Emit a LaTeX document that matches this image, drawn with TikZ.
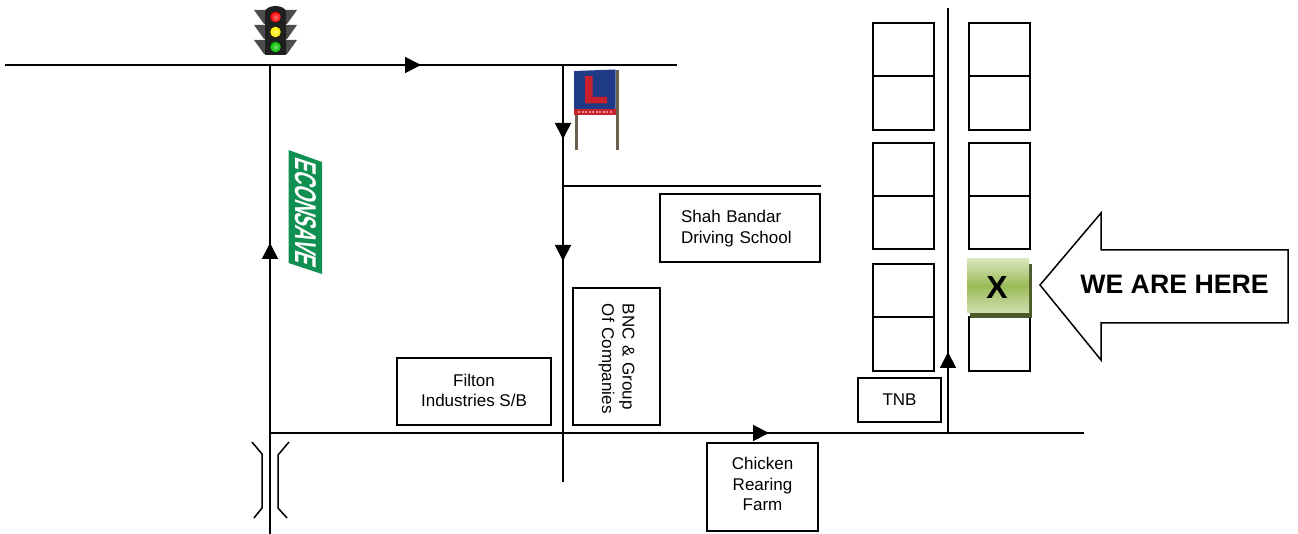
\documentclass[tikz,border=0pt]{standalone}
\usepackage{fontspec}
\setmainfont{Liberation Sans}
\usetikzlibrary{arrows.meta,calc}
\definecolor{signblue}{HTML}{1F3A86}
\definecolor{signred}{HTML}{C8202C}
\definecolor{postgrey}{HTML}{6B5F4E}
\definecolor{econgreen}{HTML}{0F9050}
\definecolor{xlight}{HTML}{D8E4BC}
\definecolor{xmid}{HTML}{9BBB59}
\definecolor{xshadow}{HTML}{4A5A28}
\tikzset{
  road/.style={draw=black,line width=1.9pt},
  dirarrow/.style={road,-{Triangle[length=16pt,width=16pt]}},
  bridgeline/.style={draw=black,line width=1.5pt},
  labelbox/.style={draw=black,line width=1.5pt,fill=white,inner sep=0pt,font=\fontsize{17}{20.5}\selectfont},
  plot/.style={draw=black,line width=1.5pt,fill=white,inner sep=0pt,minimum width=61pt},
  lamp/.style={inner color=#1!55!white,outer color=#1},
}
\begin{document}
\begin{tikzpicture}[x=1pt,y=-1pt]
\useasboundingbox (0,0) rectangle (1298,534);
% road end points
\coordinate (topW) at (5,65);
\coordinate (topE) at (677,65);
\coordinate (topA) at (421,65);
\coordinate (leftN) at (270,65);
\coordinate (leftS) at (270,534);
\coordinate (leftA) at (270,243);
\coordinate (midN) at (563,65);
\coordinate (midS) at (563,482);
\coordinate (midA) at (563,139);
\coordinate (midB) at (563,261);
\coordinate (branchW) at (563,186);
\coordinate (branchE) at (821,186);
\coordinate (botW) at (270,433);
\coordinate (botE) at (1084,433);
\coordinate (botA) at (769,433);
\coordinate (rightN) at (948,8);
\coordinate (rightS) at (948,434);
\coordinate (rightA) at (948,352);
% roads
\draw[road] (topW) -- (topE);
\draw[road] (leftN) -- (leftS);
\draw[road] (midN) -- (midS);
\draw[road] (branchW) -- (branchE);
\draw[road] (botW) -- (botE);
\draw[road] (rightN) -- (rightS);
\draw[dirarrow] (topW) -- (topA);
\draw[dirarrow] (leftS) -- (leftA);
\draw[dirarrow] (midN) -- (midA);
\draw[dirarrow] (midN) -- (midB);
\draw[dirarrow] (botW) -- (botA);
\draw[dirarrow] (rightS) -- (rightA);
% labelled boxes
\node[labelbox,inner xsep=21pt,text width=118pt,minimum height=68pt,align=left] (shah) at (740,228) {Shah Bandar\\Driving School\\[-18.5pt]\mbox{}};
\node[labelbox,minimum width=154pt,minimum height=67pt,align=center] (filton) at (474,391.5) {Filton\\Industries S/B\\[-18.5pt]\mbox{}};
\node[labelbox,minimum width=111pt,minimum height=88pt,align=center] (chicken) at (762.5,487) {Chicken\\Rearing\\Farm\\[-14.5pt]\mbox{}};
\node[labelbox,minimum width=83pt,minimum height=44pt] (tnb) at (899.5,400) {TNB};
\node[labelbox,inner xsep=8pt,text width=121pt,minimum height=87pt,rotate=-90,align=left] (bnc) at (616.5,356.5) {\hspace*{8pt}BNC \& Group\\\hspace*{8pt}Of Companies};
% building plots
\foreach \n/\cx/\ya/\yb in {
  a/903.5/23/76,b/903.5/76/130,c/903.5/143/196,d/903.5/196/249,e/903.5/264/317,f/903.5/317/371,
  g/999.5/23/76,h/999.5/76/130,i/999.5/143/196,j/999.5/196/249,k/999.5/317/371}{
  \pgfmathsetmacro{\cy}{(\ya+\yb)/2}
  \pgfmathsetmacro{\hh}{\yb-\ya}
  \node[plot,minimum height=\hh pt] (plot\n) at (\cx,\cy) {};
}
% X marker
\fill[xshadow] (970,264) rectangle (1032,318);
\node[inner sep=0pt,minimum width=62pt,minimum height=54pt,top color=xlight,bottom color=xlight!90!xmid,middle color=xmid] (xmark) at (998,286) {};
\node[font=\fontsize{32}{32}\selectfont\bfseries] (xtext) at (997,287) {X};
% big arrow
\draw[line width=1.5pt,fill=white,line join=miter] (1040,285) -- (1101,213) -- (1101,250) -- (1288,250) -- (1288,323) -- (1101,323) -- (1101,360) -- cycle;
\node[font=\fontsize{26.7}{26.7}\selectfont\bfseries] (here) at (1174.5,284) {WE ARE HERE};
% flyover
\draw[bridgeline] (252,442) -- (262,454) -- (262,508) -- (254,518);
\draw[bridgeline] (289,442) -- (278,455) -- (278,508) -- (287,518);
% traffic light
\begin{scope}
  \foreach \yy in {10,25,40}{
    \fill[black!70] (254,\yy) -- (267,\yy) -- (267,\yy+14) -- (264,\yy+14) -- cycle;
    \fill[black!70] (297,\yy) -- (284,\yy) -- (284,\yy+14) -- (287,\yy+14) -- cycle;
  }
  \fill[black!88] (265,55) -- (265,12) .. controls (265,8) and (271,6) .. (275.5,6) .. controls (280,6) and (286,8) .. (286,12) -- (286,55) -- cycle;
  \shade[lamp=red] (275.5,17) circle (5.3pt);
  \shade[lamp=yellow!85!orange] (275.5,32) circle (5.3pt);
  \shade[lamp=green!75!black] (275.5,47) circle (5.3pt);
\end{scope}
% driving school sign
\fill[postgrey] (575,112) rectangle (577.5,150);
\fill[postgrey] (615.5,70) rectangle (618.5,150);
\fill[signblue] (574,71) -- (615.5,69.5) -- (615.5,115) -- (574,115) -- cycle;
\fill[signred] (574,109) rectangle (615.5,115);
\draw[white!50!signred,line width=1.4pt,dash pattern=on 2pt off 1.5pt] (578,112) -- (612,112);
\fill[signred] (585,76) -- (592.5,76) -- (592.5,97) -- (607,97) -- (607,103.5) -- (585,103.5) -- cycle;
% econsave banner
\fill[econgreen] (288.5,150) -- (322,162) -- (322,274) -- (288.5,263) -- cycle;
\begin{scope}[shift={(305.5,213)},rotate=-90,xslant=0.33,xscale=0.64]
  \node[transform shape,text=white,inner sep=0pt,font=\fontsize{30}{30}\selectfont\bfseries] (econ) at (0,0) {ECONSAVE};
\end{scope}
\end{tikzpicture}
\end{document}
